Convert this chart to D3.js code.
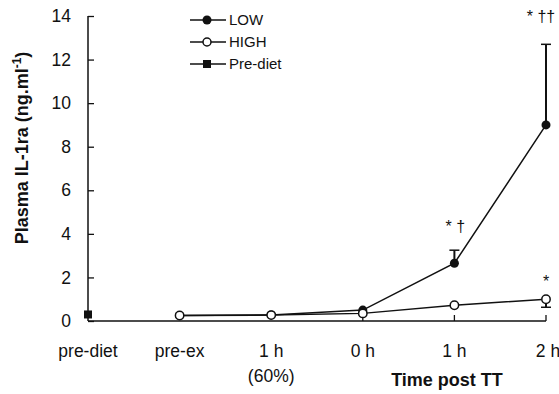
<!DOCTYPE html>
<html>
<head>
<meta charset="utf-8">
<script src="https://cdn.jsdelivr.net/npm/d3@7"></script>
<style>
body { margin: 0; background: #fff; }
text { font-family: "Liberation Sans", Arial, sans-serif; fill: #111; }
</style>
</head>
<body>
<svg id="chart" width="559" height="394"></svg>
<script>
// time points along the x axis
var points = ["prediet", "preex", "1h60", "0h", "1h", "2h"];
var tickLabels = ["pre-diet", "pre-ex", "1 h", "0 h", "1 h", "2 h"];

// LOW and HIGH diet series (ng/ml)
var lowPts = ["preex", "1h60", "0h", "1h", "2h"];
var lowVals = [0.25, 0.28, 0.5, 2.65, 9.0];
var lowErr = [0, 0, 0, 0.6, 3.7];      // upper bars
var highPts = ["preex", "1h60", "0h", "1h", "2h"];
var highVals = [0.25, 0.27, 0.35, 0.72, 1.0];
var highErr = [0, 0, 0, 0, 0.37];      // lower bar at 2h
var preDiet = 0.3;

var yTicks = [0, 2, 4, 6, 8, 10, 12, 14];

var svg = d3.select("#chart");
var x = d3.scalePoint().domain(points).range([88, 546]);
var y = d3.scaleLinear().domain([0, 14]).range([321, 16]);

// y axis
var yAxis = d3.axisLeft(y).tickValues(yTicks).tickSize(-6).tickPadding(17).tickFormat(d3.format("d"));
var gy = svg.append("g").attr("transform", "translate(88,0)").call(yAxis);
gy.select(".domain").attr("stroke", "#111").attr("stroke-width", 1.5).attr("d", "M0," + y(14) + "V" + y(0));
gy.selectAll(".tick line").attr("stroke", "#111").attr("stroke-width", 1.3);
gy.selectAll(".tick text").style("font-size", "17.5px").attr("fill", "#111");

// x axis
svg.append("line").attr("x1", 88).attr("x2", x("2h")).attr("y1", y(0)).attr("y2", y(0))
  .attr("stroke", "#111").attr("stroke-width", 1.5);
["0h", "1h", "2h"].forEach(function(p) {
  svg.append("line").attr("x1", x(p)).attr("x2", x(p)).attr("y1", y(0)).attr("y2", y(0) - 6)
    .attr("stroke", "#111").attr("stroke-width", 1.3);
});
points.forEach(function(p, i) {
  svg.append("text").attr("x", x(p) + (i == 5 ? 2 : 0)).attr("y", 357).attr("text-anchor", "middle")
    .style("font-size", "17.5px").text(tickLabels[i]);
});
svg.append("text").attr("x", x("1h60")).attr("y", 382).attr("text-anchor", "middle")
  .style("font-size", "17.5px").text("(60%)");
svg.append("text").attr("x", 447).attr("y", 386).attr("text-anchor", "middle")
  .style("font-size", "18px").style("font-weight", "bold").text("Time post TT");

// y label
var yl = svg.append("text").attr("transform", "translate(28,148) rotate(-90)").attr("text-anchor", "middle")
  .style("font-size", "18px").style("font-weight", "bold");
yl.append("tspan").text("Plasma IL-1ra (ng.ml");
yl.append("tspan").attr("dy", -7).style("font-size", "12px").text("-1");
yl.append("tspan").attr("dy", 7).text(")");

var line = d3.line().x(function(d) { return x(d[0]); }).y(function(d) { return y(d[1]); });

// error bars
function errBar(p, v, e, dir) {
  var y1 = y(v), y2 = y(v + dir * e);
  svg.append("line").attr("x1", x(p)).attr("x2", x(p)).attr("y1", y1).attr("y2", y2)
    .attr("stroke", "#111").attr("stroke-width", 2);
  svg.append("line").attr("x1", x(p) - 5).attr("x2", x(p) + 5).attr("y1", y2).attr("y2", y2)
    .attr("stroke", "#111").attr("stroke-width", 1.5);
}
lowPts.forEach(function(p, i) { if (lowErr[i] > 0) errBar(p, lowVals[i], lowErr[i], 1); });
highPts.forEach(function(p, i) { if (highErr[i] > 0) errBar(p, highVals[i], highErr[i], -1); });

// LOW
svg.append("path").datum(d3.zip(lowPts, lowVals)).attr("d", line)
  .attr("fill", "none").attr("stroke", "#111").attr("stroke-width", 1.5);
svg.selectAll(".low").data(d3.zip(lowPts, lowVals)).enter().append("circle")
  .attr("cx", function(d) { return x(d[0]); }).attr("cy", function(d) { return y(d[1]); })
  .attr("r", 4.5).attr("fill", "#111");

// HIGH
svg.append("path").datum(d3.zip(highPts, highVals)).attr("d", line)
  .attr("fill", "none").attr("stroke", "#111").attr("stroke-width", 1.5);
svg.selectAll(".high").data(d3.zip(highPts, highVals)).enter().append("circle")
  .attr("cx", function(d) { return x(d[0]); }).attr("cy", function(d) { return y(d[1]); })
  .attr("r", 4.2).attr("fill", "#fff").attr("stroke", "#111").attr("stroke-width", 1.5);

// pre-diet
svg.append("rect").attr("x", x("prediet") - 4).attr("y", y(preDiet) - 4).attr("width", 8).attr("height", 8)
  .attr("fill", "#111");

// significance marks
function mark(px, py, t) {
  svg.append("text").attr("x", px).attr("y", py).attr("text-anchor", "middle")
    .style("font-size", "16px").text(t);
}
mark(x("2h") - 5, 22, "* \u2020\u2020");
mark(x("1h") + 1, 232, "* \u2020");
mark(x("2h"), 287, "*");

// legend
var legend = [["LOW", "fill"], ["HIGH", "open"], ["Pre-diet", "square"]];
legend.forEach(function(l, i) {
  var ly = 20 + i * 22;
  svg.append("line").attr("x1", 190).attr("x2", 226).attr("y1", ly).attr("y2", ly)
    .attr("stroke", "#111").attr("stroke-width", 1.5);
  if (l[1] == "fill") svg.append("circle").attr("cx", 207).attr("cy", ly).attr("r", 4.5).attr("fill", "#111");
  if (l[1] == "open") svg.append("circle").attr("cx", 207).attr("cy", ly).attr("r", 4).attr("fill", "#fff")
    .attr("stroke", "#111").attr("stroke-width", 1.5);
  if (l[1] == "square") svg.append("rect").attr("x", 203).attr("y", ly - 4).attr("width", 8).attr("height", 8).attr("fill", "#111");
  svg.append("text").attr("x", 229).attr("y", ly + 5).style("font-size", "15px").text(l[0]);
});
</script>
</body>
</html>
